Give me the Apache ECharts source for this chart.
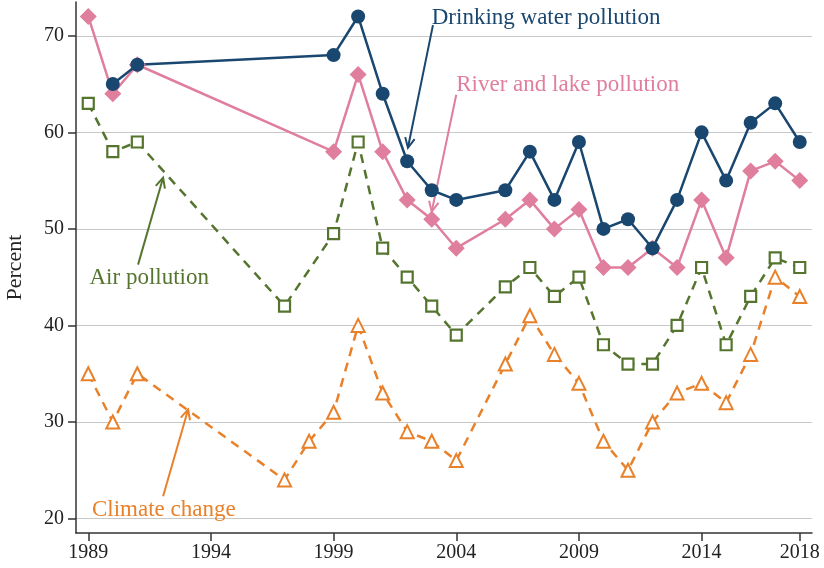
<!DOCTYPE html>
<html>
<head>
<meta charset="utf-8">
<script src="https://cdn.jsdelivr.net/npm/echarts@6/dist/echarts.min.js"></script>
<style>
html, body { margin: 0; padding: 0; background: #fff; }
#chart_1 { width: 824px; height: 568px; }
</style>
</head>
<body>
<div id="chart_1"></div>
<script>
var xTicks = [1989, 1994, 1999, 2004, 2009, 2014, 2018];
var yTicks = [20, 30, 40, 50, 60, 70];

var drinkYears = [1990, 1991, 1999, 2000, 2001, 2002, 2003, 2004, 2006, 2007, 2008, 2009, 2010, 2011, 2012, 2013, 2014, 2015, 2016, 2017, 2018];
var drinkVals  = [65, 67, 68, 72, 64, 57, 54, 53, 54, 58, 53, 59, 50, 51, 48, 53, 60, 55, 61, 63, 59];

var riverYears = [1989, 1990, 1991, 1999, 2000, 2001, 2002, 2003, 2004, 2006, 2007, 2008, 2009, 2010, 2011, 2012, 2013, 2014, 2015, 2016, 2017, 2018];
var riverVals  = [72, 64, 67, 58, 66, 58, 53, 51, 48, 51, 53, 50, 52, 46, 46, 48, 46, 53, 47, 56, 57, 55];

var airYears = [1989, 1990, 1991, 1997, 1999, 2000, 2001, 2002, 2003, 2004, 2006, 2007, 2008, 2009, 2010, 2011, 2012, 2013, 2014, 2015, 2016, 2017, 2018];
var airVals  = [63, 58, 59, 42, 49.5, 59, 48, 45, 42, 39, 44, 46, 43, 45, 38, 36, 36, 40, 46, 38, 43, 47, 46];

var climateYears = [1989, 1990, 1991, 1997, 1998, 1999, 2000, 2001, 2002, 2003, 2004, 2006, 2007, 2008, 2009, 2010, 2011, 2012, 2013, 2014, 2015, 2016, 2017, 2018];
var climateVals  = [35, 30, 35, 24, 28, 31, 40, 33, 29, 28, 26, 36, 41, 37, 34, 28, 25, 30, 33, 34, 32, 37, 45, 43];

// annotation labels: text, anchor [year, value], arrow from/to in data units
var notes = [
    { text: 'Drinking water pollution', at: [2003.0, 71.8], from: [2003.05, 71.1], to: [2002.03, 58.4], color: '#1a476f' },
    { text: 'River and lake pollution', at: [2004.0, 64.9], from: [2004.0, 63.9], to: [2003.0, 51.8], color: '#e07f9d' },
    { text: 'Air pollution', at: [1989.05, 44.9], from: [1991.03, 46.3], to: [1992.05, 55.3], color: '#55752f' },
    { text: 'Climate change', at: [1989.15, 20.9], from: [1992.05, 22.3], to: [1993.07, 31.3], color: '#e8812a' }
];

var fontFam = '"Liberation Serif", "DejaVu Serif", serif';

function pairs(xs, ys) {
    return xs.map(function (x, i) { return [x, ys[i]]; });
}

(function () {
    var myChart = echarts.init(document.getElementById('chart_1'));
    var option = {
        backgroundColor: '#fff',
        animation: false,
        grid: { left: 76, right: 12, top: 2, bottom: 35, outerBoundsMode: 'none', containLabel: false },
        xAxis: {
            type: 'value',
            min: 1988.5,
            max: 2018.5,
            axisLine: { onZero: false, lineStyle: { color: '#333', width: 1.5 } },
            axisTick: { show: true, length: 8, customValues: xTicks, lineStyle: { color: '#333', width: 1.5 } },
            axisLabel: {
                customValues: xTicks, color: '#222', fontSize: 20, fontFamily: fontFam, margin: 10,
                formatter: function (v) { return String(v); }
            },
            splitLine: { show: false }
        },
        yAxis: {
            type: 'value',
            min: 18.5,
            max: 73.5,
            name: 'Percent',
            nameLocation: 'middle',
            nameGap: 50,
            nameTextStyle: { color: '#222', fontSize: 22, fontFamily: fontFam },
            axisLine: { show: true, lineStyle: { color: '#333', width: 1.5 } },
            axisTick: { show: true, length: 8, customValues: yTicks, lineStyle: { color: '#333', width: 1.5 } },
            axisLabel: { customValues: yTicks, color: '#222', fontSize: 20, fontFamily: fontFam, margin: 12 },
            splitLine: { show: true, lineStyle: { color: '#c8c8c8', width: 1.2 } }
        },
        series: [
            {
                name: 'Climate change',
                type: 'line',
                data: pairs(climateYears, climateVals),
                symbol: 'triangle',
                symbolSize: 13,
                itemStyle: { color: '#fff', borderColor: '#e8812a', borderWidth: 2 },
                lineStyle: { color: '#e8812a', width: 2.5, type: [9, 7] }
            },
            {
                name: 'Air pollution',
                type: 'line',
                data: pairs(airYears, airVals),
                symbol: 'rect',
                symbolSize: 11,
                itemStyle: { color: '#fff', borderColor: '#55752f', borderWidth: 2.2 },
                lineStyle: { color: '#55752f', width: 2.5, type: [9, 7] }
            },
            {
                name: 'River and lake pollution',
                type: 'line',
                data: pairs(riverYears, riverVals),
                symbol: 'diamond',
                symbolSize: 17,
                itemStyle: { color: '#e07f9d' },
                lineStyle: { color: '#e07f9d', width: 2.5 }
            },
            {
                name: 'Drinking water pollution',
                type: 'line',
                data: pairs(drinkYears, drinkVals),
                symbol: 'circle',
                symbolSize: 14,
                itemStyle: { color: '#1a476f' },
                lineStyle: { color: '#1a476f', width: 2.5 }
            }
        ]
    };
    myChart.setOption(option);

    // annotations: text labels and open-headed arrows placed from data coords
    var els = [];
    notes.forEach(function (n) {
        var p = myChart.convertToPixel({ gridIndex: 0 }, n.at);
        var a = myChart.convertToPixel({ gridIndex: 0 }, n.from);
        var b = myChart.convertToPixel({ gridIndex: 0 }, n.to);
        els.push({
            type: 'text', x: p[0], y: p[1],
            style: { text: n.text, fill: n.color, fontSize: 23, fontFamily: fontFam, textVerticalAlign: 'middle' }
        });
        els.push({
            type: 'line',
            shape: { x1: a[0], y1: a[1], x2: b[0], y2: b[1] },
            style: { stroke: n.color, lineWidth: 2 }
        });
        var ang = Math.atan2(b[1] - a[1], b[0] - a[0]);
        var len = 11, spread = 0.45;
        els.push({
            type: 'polyline',
            shape: { points: [
                [b[0] - len * Math.cos(ang - spread), b[1] - len * Math.sin(ang - spread)],
                [b[0], b[1]],
                [b[0] - len * Math.cos(ang + spread), b[1] - len * Math.sin(ang + spread)]
            ] },
            style: { stroke: n.color, lineWidth: 2, fill: null }
        });
    });
    myChart.setOption({ graphic: els });

    window.addEventListener("resize", function () {
        myChart.resize();
    });
})();
</script>
</body>
</html>
